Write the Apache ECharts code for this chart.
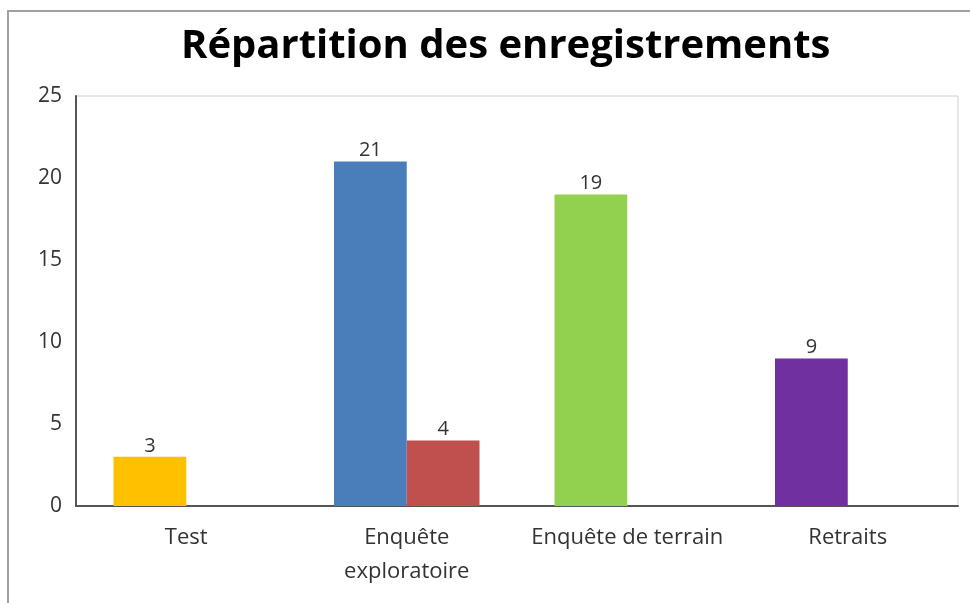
<!DOCTYPE html>
<html>
<head>
<meta charset="utf-8">
<script src="https://cdn.jsdelivr.net/npm/echarts@6/dist/echarts.min.js"></script>
<style>
html,body{margin:0;padding:0;background:#fff;}
#main{width:970px;height:603px;}
</style>
</head>
<body>
<div id="main"></div>
<script>
const titleText = 'Répartition des enregistrements';
const categories = ['Test', 'Enquête exploratoire', 'Enquête de terrain', 'Retraits'];
const seriesA = [3, 21, 19, 9];
const seriesB = ['-', 4, '-', '-'];
const colorsA = ['#FFC000', '#4A7EBB', '#92D050', '#7030A0'];
const colorB = '#C0504D';
const yTicks = { min: 0, max: 25, interval: 5 };

const font = '"Open Sans", "Liberation Sans", sans-serif';
const chart = echarts.init(document.getElementById('main'));
chart.setOption({
  animation: false,
  title: {
    text: titleText,
    left: 176,
    top: 22,
    textStyle: { fontFamily: font, fontSize: 40, fontWeight: 'bold', color: '#000' }
  },
  graphic: [{
    type: 'rect',
    shape: { x: 8, y: 11, width: 1200, height: 800 },
    style: { fill: 'none', stroke: '#a0a0a0', lineWidth: 2 },
    silent: true
  }],
  grid: { left: 76, top: 96, right: 12, bottom: 97, show: true, borderColor: '#d0d0d0', borderWidth: 1 },
  xAxis: {
    type: 'category',
    data: categories,
    axisLine: { show: true, lineStyle: { color: '#555', width: 2 } },
    axisTick: { show: false },
    axisLabel: {
      interval: 0, margin: 15, fontFamily: font, fontSize: 22, color: '#333', lineHeight: 34,
      formatter: v => v === 'Enquête exploratoire' ? 'Enquête\nexploratoire' : v
    }
  },
  yAxis: {
    type: 'value',
    min: yTicks.min, max: yTicks.max, interval: yTicks.interval,
    splitLine: { show: false },
    axisLine: { show: true, lineStyle: { color: '#555', width: 2 } },
    axisTick: { show: false },
    axisLabel: { margin: 14, fontFamily: font, fontSize: 21, color: '#333' }
  },
  series: [
    {
      type: 'bar',
      data: seriesA.map((v, i) => ({ value: v, itemStyle: { color: colorsA[i] } })),
      barGap: '0%',
      barCategoryGap: '34%',
      label: { show: true, position: 'top', distance: 1, fontFamily: font, fontSize: 20, color: '#333' }
    },
    {
      type: 'bar',
      data: seriesB,
      itemStyle: { color: colorB },
      barGap: '0%',
      barCategoryGap: '34%',
      label: { show: true, position: 'top', distance: 1, fontFamily: font, fontSize: 20, color: '#333' }
    }
  ]
});
</script>
</body>
</html>
